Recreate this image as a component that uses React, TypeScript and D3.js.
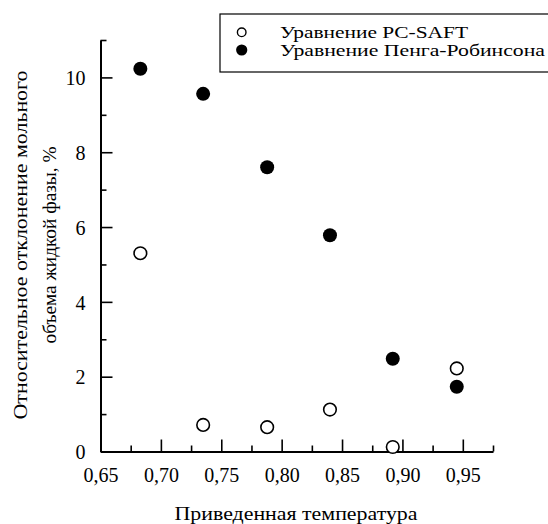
import React, { useEffect, useRef } from 'react'
import * as d3 from 'd3'

// приведенная температура
const temps = [0.683, 0.735, 0.788, 0.84, 0.892, 0.945]
const pcSaft = [5.3, 0.71, 0.65, 1.12, 0.12, 2.22]
const pengRobinson = [10.23, 9.56, 7.6, 5.78, 2.48, 1.73]

const xMajor = [0.65, 0.7, 0.75, 0.8, 0.85, 0.9, 0.95]
const xMinor = [0.675, 0.725, 0.775, 0.825, 0.875, 0.925, 0.975]
const yMajor = [0, 2, 4, 6, 8, 10]
const yMinor = [1, 3, 5, 7, 9, 11]

const legendLabels = ['Уравнение PC-SAFT', 'Уравнение Пенга-Робинсона']
const xTitle = 'Приведенная температура'
const yTitle = ['Относительное отклонение мольного', 'объема жидкой фазы, %']

const W = 548
const H = 524
const FONT = "'Liberation Serif', 'DejaVu Serif', serif"

export default function App() {
  const svgRef = useRef<SVGSVGElement>(null)

  useEffect(() => {
    const svg = d3.select(svgRef.current)
    svg.selectAll('*').remove()

    const x = d3.scaleLinear().domain([0.65, 0.975]).range([100.5, 493])
    const y = d3.scaleLinear().domain([0, 11]).range([451.5, 40])

    const fmt = (v: number) => v.toFixed(2).replace('.', ',')

    // x axis - ticks point inward
    const gx = svg.append('g').attr('transform', `translate(0,${y(0)})`)
    gx.call(d3.axisBottom(x).tickValues(xMajor).tickSize(-12).tickFormat(d => fmt(+d)).tickSizeOuter(0))
    gx.append('g').call(d3.axisBottom(x).tickValues(xMinor).tickSize(-6).tickFormat(() => '').tickSizeOuter(0))
      .select('.domain').remove()

    // y axis
    const gy = svg.append('g').attr('transform', `translate(${x(0.65)},0)`)
    gy.call(d3.axisLeft(y).tickValues(yMajor).tickSize(-12).tickFormat(d => String(d)).tickSizeOuter(0))
    gy.append('g').call(d3.axisLeft(y).tickValues(yMinor).tickSize(-6).tickFormat(() => '').tickSizeOuter(0))
      .select('.domain').remove()

    svg.selectAll('g').attr('font-family', null)
    svg.selectAll('.domain').attr('stroke', '#000').attr('stroke-width', 2)
    svg.selectAll('.tick line').attr('stroke', '#000').attr('stroke-width', 1.6)
    svg.selectAll('.tick text')
      .attr('font-size', 20)
      .attr('fill', '#000')
    gx.selectAll('.tick text').attr('dy', null).attr('y', 30)
    gy.selectAll('.tick text').attr('x', -15).attr('dy', '0.36em')

    // points
    svg.append('g').selectAll('circle')
      .data(temps.map((t, i) => [t, pcSaft[i]]))
      .join('circle')
      .attr('cx', d => x(d[0]))
      .attr('cy', d => y(d[1]))
      .attr('r', 6.3)
      .attr('fill', '#fff')
      .attr('stroke', '#000')
      .attr('stroke-width', 1.6)

    svg.append('g').selectAll('circle')
      .data(temps.map((t, i) => [t, pengRobinson[i]]))
      .join('circle')
      .attr('cx', d => x(d[0]))
      .attr('cy', d => y(d[1]))
      .attr('r', 7)
      .attr('fill', '#000')

    // legend
    const lg = svg.append('g')
    lg.append('rect')
      .attr('x', 220).attr('y', 14)
      .attr('width', 340).attr('height', 58)
      .attr('fill', '#fff').attr('stroke', '#000').attr('stroke-width', 1.2)
    lg.append('circle').attr('cx', 241.7).attr('cy', 32.3).attr('r', 4.3)
      .attr('fill', '#fff').attr('stroke', '#000').attr('stroke-width', 1.4)
    lg.append('circle').attr('cx', 241.7).attr('cy', 50).attr('r', 5.6).attr('fill', '#000')
    const legendWidths = [188, 265]
    lg.selectAll('text')
      .data(legendLabels)
      .join('text')
      .attr('x', 280)
      .attr('y', (d, i) => 37.5 + i * 18)
      .attr('font-size', 16.5)
      .attr('textLength', (d, i) => legendWidths[i])
      .attr('lengthAdjust', 'spacingAndGlyphs')
      .text(d => d)

    // titles
    svg.append('text')
      .attr('x', 296).attr('y', 520)
      .attr('text-anchor', 'middle')
      .attr('font-size', 18.5)
      .attr('textLength', 243)
      .attr('lengthAdjust', 'spacingAndGlyphs')
      .text(xTitle)

    const yTitleLengths = [349, 197]
    svg.append('g')
      .attr('transform', 'translate(27,245) rotate(-90)')
      .selectAll('text')
      .data(yTitle)
      .join('text')
      .attr('x', 0)
      .attr('y', (d, i) => i * 28.5)
      .attr('text-anchor', 'middle')
      .attr('font-size', 19.5)
      .attr('textLength', (d, i) => yTitleLengths[i])
      .attr('lengthAdjust', 'spacingAndGlyphs')
      .text(d => d)
  }, [])

  return (
    <svg ref={svgRef} width={W} height={H}
      style={{ position: 'absolute', left: 0, top: 0, background: '#fff', fontFamily: FONT }} />
  )
}
